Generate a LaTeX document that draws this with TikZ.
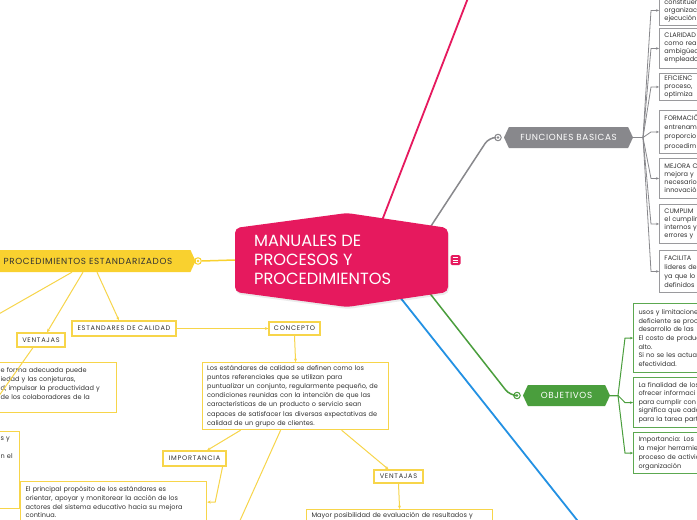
\documentclass[tikz,border=0pt]{standalone}
\usepackage{fontspec}
\setmainfont{Poppins}
\newfontfamily\lblfont[LetterSpace=11]{Poppins}
\newfontfamily\topfont[LetterSpace=7]{Poppins}
\usetikzlibrary{shapes.symbols,arrows.meta,calc}
\definecolor{pinkc}{HTML}{E6195E}
\definecolor{yel}{HTML}{F9D12F}
\definecolor{yelline}{HTML}{F7D54A}
\definecolor{greyc}{HTML}{88888C}
\definecolor{greenc}{HTML}{4A9E3D}
\definecolor{bluec}{HTML}{2391E3}
\definecolor{txt}{HTML}{333333}
\tikzset{
  ybox/.style={draw=yelline, line width=1.2pt, fill=white, text=txt, align=left, anchor=north west, inner xsep=5pt, inner ysep=0pt, font=\fontsize{6.55}{9}\selectfont},
  ylabel/.style={draw=yelline, line width=1.2pt, fill=white, text=txt, inner sep=0pt, font=\lblfont\fontsize{6.6}{7}\selectfont},
  gbox/.style={draw=greyc!85, line width=0.9pt, fill=white, text=txt, align=left, anchor=north west, inner xsep=5pt, inner ysep=0pt, text width=60pt, font=\fontsize{6.55}{8}\selectfont},
  grbox/.style={draw=greenc!90, line width=1.1pt, fill=white, text=txt, align=left, anchor=north west, inner xsep=5pt, inner ysep=0pt, text width=80pt, font=\fontsize{6.55}{8.6}\selectfont},
  yconn/.style={draw=yelline, line width=1pt},
  ytip/.style={-{Stealth[length=3.5pt,width=3pt]}},
  gconn/.style={draw=greyc, line width=0.8pt, -{Stealth[length=3pt,width=2.5pt]}},
  grconn/.style={draw=greenc, line width=1pt, -{Stealth[length=3pt,width=2.5pt]}},
  marker/.style={circle, line width=1pt, fill=white, minimum size=6.5pt, inner sep=0pt},
  mainnode/.style={signal, inner sep=0pt, minimum height=21pt, signal pointer angle=130, text=white, font=\topfont\fontsize{8.8}{9}\selectfont}
}
\begin{document}
\begin{tikzpicture}[x=1pt,y=-1pt]
\clip (0,0) rectangle (697,520);
\fill[white] (0,0) rectangle (697,520);

% free ends of main branches
\coordinate (pinkS) at (366,262);
\coordinate (pinkE) at (468,-2);
\coordinate (gS) at (414,252);
\coordinate (grS) at (417,277);
\coordinate (blS) at (380,272);
\coordinate (blE) at (581,525);

% markers
\node[marker, draw=yel] (pcirc) at (198,261) {};
\node[marker, draw=greyc] (fcirc) at (498,137.5) {};
\node[marker, draw=greenc] (ocirc) at (517,395.5) {};

% main branches (behind root)
\draw[pinkc, line width=1.8pt] (pinkS) -- (pinkE);
\draw[greyc, line width=1.5pt, rounded corners=7pt] (gS) -- (489,137.5) -- (fcirc.west);
\draw[greenc, line width=1.5pt, rounded corners=7pt] (grS) -- (510,395.5) -- (ocirc.west);
\draw[bluec, line width=1.8pt] (blS) -- (blE);

% root
\node[minimum width=213pt, minimum height=94pt, inner sep=0pt] (root) at (341.5,260) {};
\fill[black, opacity=0.08, rounded corners=5pt] (236,230) -- (348,215) -- (449,230) -- (449,294) -- (348,309) -- (236,294) -- cycle;
\fill[pinkc, rounded corners=5pt] (235,228) -- (347,213) -- (448,228) -- (448,292) -- (347,307) -- (235,292) -- cycle;
\node[anchor=north west, inner sep=0pt, align=left, text=white, font=\fontsize{16.2}{18.7}\selectfont] (title) at (254,235.3) {MANUALES DE\\PROCESOS Y\\PROCEDIMIENTOS};
\node[fill=pinkc, rounded corners=1.5pt, minimum size=10pt, inner sep=0pt] (menu) at (455.5,260) {};
\foreach \dy in {-2.2,0,2.2}
  \draw[white, line width=0.7pt] ([xshift=-2.8pt,yshift=\dy pt]menu.center) -- ([xshift=2.8pt,yshift=\dy pt]menu.center);

% marker dots
\fill[yel] (pcirc.center) circle (1.3pt);
\fill[greyc] (fcirc.center) circle (1.3pt);
\fill[greenc] (ocirc.center) circle (1.3pt);

% main topic nodes
\node[mainnode, signal to=east, fill=yel, text=txt, minimum width=210pt, minimum height=22pt] (proc) at (88,261) {PROCEDIMIENTOS ESTANDARIZADOS};
\node[mainnode, signal to=east and west, fill=greyc, minimum width=129pt] (fb) at (568.5,137.5) {FUNCIONES BASICAS};
\node[mainnode, signal to=east and west, fill=greenc, minimum width=87pt] (obj) at (566.5,395.5) {OBJETIVOS};

\draw[yel, line width=1.5pt] (root.west) -- (pcirc.east);
\draw[yel, line width=1.5pt] (pcirc.west) -- (proc.east);

% yellow subtree
\node[ylabel, minimum width=104pt, minimum height=15pt] (est) at (124,328.5) {ESTANDARES DE CALIDAD};
\node[ylabel, minimum width=48pt, minimum height=14pt] (vent) at (41,340) {VENTAJAS};
\node[ylabel, minimum width=51pt, minimum height=13pt] (conc) at (294.5,328.5) {CONCEPTO};
\node[ylabel, minimum width=63pt, minimum height=15pt] (imp) at (194.5,458.5) {IMPORTANCIA};
\node[ylabel, minimum width=49pt, minimum height=13pt] (vtwo) at (398.5,476.5) {VENTAJAS};

\node[ybox, text width=177pt, inner xsep=4.5pt, minimum height=67pt, font=\fontsize{6.55}{9.2}\selectfont] (para) at (202,362) {Los estándares de calidad se definen como los\\puntos referenciales que se utilizan para\\puntualizar un conjunto, regularmente pequeño, de\\condiciones reunidas con la intención de que las\\características de un producto o servicio sean\\capaces de satisfacer las diversas expectativas de\\calidad de un grupo de clientes.};
\node[ybox, text width=111pt, minimum height=50pt] (lefta) at (-5,362) {e forma adecuada puede\\iedad y las conjeturas,\\d, impulsar la productividad y\\ de los colaboradores de la\\\mbox{}};
\node[ybox, text width=14pt, minimum height=77pt] (leftb) at (-5,431) {s y\\\mbox{}\\n el\\\mbox{}\\\mbox{}\\\mbox{}\\\mbox{}\\\mbox{}};
\node[ybox, text width=176pt, minimum height=41pt, font=\fontsize{6.55}{8.8}\selectfont] (prin) at (20,481) {El principal propósito de los estándares es\\orientar, apoyar y monitorear la acción de los\\actores del sistema educativo hacia su mejora\\continua.};
\node[ybox, text width=176pt, minimum height=13pt] (mayor) at (306,509) {Mayor posibilidad de evaluación de resultados y};

\coordinate (lfree) at (-10,319);
\coordinate (vfree) at (-4,400);
\coordinate (pfree) at (238,525);
\draw[yconn] ([xshift=-16pt]proc.south) -- (lfree);
\draw[yconn, ytip] ([xshift=-5pt]proc.south) -- ([xshift=6pt]vent.north);
\draw[yconn, ytip] ([xshift=9pt]proc.south) -- ([xshift=-5pt]est.north);
\draw[yconn, ytip] (est.east) -- (conc.west);
\draw[yconn, ytip] (conc.south) -- (para.north);
\draw[yconn] ([xshift=-8pt]vent.south) -- (vfree);
\draw[yconn, ytip] ([xshift=-55pt]para.south) -- ([xshift=12.5pt]imp.north);
\draw[yconn] ([xshift=-15pt]para.south) -- (pfree);
\draw[yconn, ytip] ([xshift=46pt]para.south) -- ([xshift=-10pt]vtwo.north);
\draw[yconn, ytip] ([xshift=-4pt]imp.south east) -- ([xshift=8pt]prin.east) -- (prin.east);
\draw[yconn, ytip] (vtwo.south) -- (mayor.north);

% grey subtree
\node[gbox, minimum height=30pt] (g1) at (659,-5) {constituen\\organizac\\ejecución};
\node[gbox, minimum height=40pt] (g2) at (659,28) {CLARIDAD\\como real\\ambigüed\\empleado};
\node[gbox, minimum height=27pt] (g3) at (659,73) {EFICIENC\\proceso,\\optimiza};
\node[gbox, minimum height=43pt, font=\fontsize{6.55}{9.3}\selectfont] (g4) at (659,110) {FORMACIÓ\\entrenam\\proporcio\\procedim};
\node[gbox, minimum height=40pt] (g5) at (659,158) {MEJORA C\\mejora y\\necesario\\innovació};
\node[gbox, minimum height=39pt] (g6) at (659,204) {CUMPLIM\\el cumplim\\internos y\\errores y};
\node[gbox, minimum height=42pt, font=\fontsize{6.55}{9}\selectfont] (g7) at (659,250) {FACILITA\\lideres de\\ya que lo\\definidos};
\coordinate (fbroot) at (643,137.5);
\foreach \b in {g1,g2,g3,g4,g5,g6,g7}
  \draw[gconn] (fb.east) -- (fbroot) -- ([xshift=-8pt]\b.west) -- (\b.west);

% green subtree
\node[grbox, minimum height=69pt] (oa) at (633,303) {usos y limitaciones\\deficiente se proce\\desarrollo de las\\El costo de produc\\alto.\\Si no se les actuali\\efectividad.};
\node[grbox, minimum height=50pt] (ob) at (633,377) {La finalidad de los\\ofrecer informaci\\para cumplir con\\significa que cada\\para la tarea part};
\node[grbox, minimum height=41pt, font=\fontsize{6.55}{9}\selectfont] (oc) at (633,432) {Importancia: Los\\la mejor herramie\\proceso de activid\\organización};
\coordinate (obroot) at (618,395.5);
\foreach \b in {oa,ob,oc}
  \draw[grconn] (obj.east) -- (obroot) -- ([xshift=-8pt]\b.west) -- (\b.west);
\end{tikzpicture}
\end{document}
